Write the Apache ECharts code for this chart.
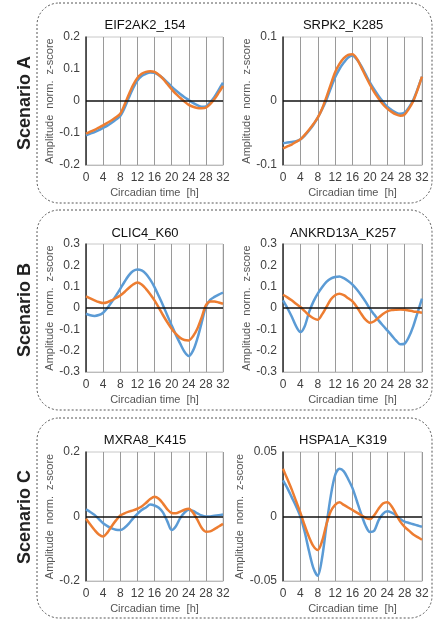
<!DOCTYPE html>
<html><head><meta charset="utf-8">
<script src="https://cdn.jsdelivr.net/npm/echarts@6/dist/echarts.min.js"></script>
<style>html,body{margin:0;padding:0;background:#fff}#c{width:435px;height:622px}</style>
</head><body><div id="c"></div>
<script>
const hours = [0,1,2,3,4,5,6,7,8,9,10,11,12,13,14,15,16,17,18,19,20,21,22,23,24,25,26,27,28,29,30,31,32];
const xTicks = [0,4,8,12,16,20,24,28,32];
const titles = ['EIF2AK2_154','SRPK2_K285','CLIC4_K60','ANKRD13A_K257','MXRA8_K415','HSPA1A_K319'];
const scenarios = ['Scenario A','Scenario B','Scenario C'];
const yMin = [-0.2,-0.1,-0.3,-0.3,-0.2,-0.05];
const yMax = [0.2,0.1,0.3,0.3,0.2,0.05];
const yStep = [0.1,0.1,0.1,0.1,0.2,0.05];

const eif2ak2Blue   = [-0.107,-0.102,-0.097,-0.091,-0.084,-0.077,-0.068,-0.058,-0.047,-0.022,0.010,0.040,0.064,0.078,0.085,0.089,0.088,0.081,0.071,0.058,0.045,0.033,0.022,0.012,0.003,-0.006,-0.013,-0.018,-0.017,-0.004,0.013,0.035,0.057];
const eif2ak2Orange = [-0.102,-0.096,-0.090,-0.083,-0.076,-0.068,-0.060,-0.051,-0.040,-0.012,0.020,0.050,0.072,0.085,0.091,0.093,0.091,0.082,0.069,0.053,0.037,0.022,0.010,-0.002,-0.012,-0.018,-0.022,-0.023,-0.021,-0.010,0.006,0.026,0.047];
const srpk2Blue     = [-0.066,-0.065,-0.064,-0.063,-0.060,-0.054,-0.046,-0.037,-0.026,-0.013,0.002,0.020,0.037,0.050,0.060,0.068,0.071,0.065,0.055,0.042,0.029,0.018,0.008,-0.001,-0.009,-0.014,-0.018,-0.020,-0.018,-0.010,0.002,0.019,0.038];
const srpk2Orange   = [-0.074,-0.071,-0.068,-0.064,-0.060,-0.053,-0.045,-0.036,-0.026,-0.012,0.006,0.026,0.045,0.058,0.067,0.072,0.073,0.066,0.053,0.039,0.026,0.014,0.004,-0.005,-0.012,-0.017,-0.021,-0.023,-0.021,-0.012,0.000,0.018,0.038];
const clic4Blue     = [-0.027,-0.034,-0.037,-0.033,-0.022,0.000,0.028,0.058,0.090,0.123,0.153,0.173,0.181,0.176,0.160,0.133,0.098,0.056,0.012,-0.035,-0.081,-0.126,-0.167,-0.205,-0.225,-0.200,-0.144,-0.070,0.005,0.038,0.052,0.063,0.072];
const clic4Orange   = [0.055,0.045,0.036,0.028,0.023,0.027,0.036,0.047,0.059,0.075,0.094,0.110,0.119,0.110,0.090,0.065,0.036,0.002,-0.034,-0.067,-0.097,-0.121,-0.140,-0.150,-0.152,-0.132,-0.097,-0.045,0.012,0.030,0.031,0.026,0.020];
const ankrdBlue     = [0.036,0.000,-0.040,-0.085,-0.113,-0.085,-0.019,0.030,0.067,0.097,0.122,0.138,0.145,0.148,0.140,0.127,0.110,0.087,0.060,0.030,-0.003,-0.031,-0.058,-0.082,-0.105,-0.128,-0.152,-0.170,-0.167,-0.135,-0.085,-0.020,0.044];
const ankrdOrange   = [0.062,0.050,0.036,0.020,0.005,-0.015,-0.034,-0.048,-0.055,-0.030,0.005,0.040,0.060,0.067,0.060,0.046,0.031,0.005,-0.027,-0.055,-0.069,-0.062,-0.045,-0.028,-0.016,-0.010,-0.008,-0.007,-0.008,-0.012,-0.016,-0.019,-0.022];
const mxra8Blue     = [0.022,0.014,0.005,-0.008,-0.021,-0.030,-0.037,-0.041,-0.042,-0.035,-0.022,-0.006,0.008,0.020,0.028,0.037,0.034,0.027,0.012,-0.015,-0.042,-0.030,-0.005,0.012,0.021,0.017,0.010,0.003,0.000,0.000,0.002,0.004,0.006];
const mxra8Orange   = [-0.007,-0.025,-0.042,-0.056,-0.062,-0.050,-0.030,-0.012,0.003,0.010,0.015,0.019,0.024,0.031,0.042,0.054,0.061,0.055,0.040,0.022,0.011,0.010,0.015,0.021,0.024,0.012,-0.010,-0.035,-0.047,-0.046,-0.039,-0.031,-0.023];
const hspa1aBlue    = [0.028,0.022,0.015,0.008,0.000,-0.012,-0.027,-0.040,-0.046,-0.032,-0.007,0.016,0.032,0.037,0.035,0.029,0.022,0.012,0.002,-0.007,-0.012,-0.011,-0.003,0.002,0.004,0.003,0.001,-0.002,-0.004,-0.005,-0.006,-0.007,-0.008];
const hspa1aOrange  = [0.037,0.029,0.021,0.012,0.003,-0.007,-0.016,-0.023,-0.026,-0.019,-0.006,0.004,0.009,0.011,0.009,0.007,0.005,0.003,0.001,-0.001,-0.002,0.001,0.006,0.010,0.011,0.008,0.002,-0.004,-0.008,-0.011,-0.014,-0.016,-0.018];

const blueSets = [eif2ak2Blue,srpk2Blue,clic4Blue,ankrdBlue,mxra8Blue,hspa1aBlue];
const orangeSets = [eif2ak2Orange,srpk2Orange,clic4Orange,ankrdOrange,mxra8Orange,hspa1aOrange];

const FONT = 'Liberation Sans';
const rowTop = [37,244,452];
const rowH = [128,128,129];
const colLeft = [86,283];
const colW = [137,139];
const titleX = [140,338];
const titleY = [22,230,437];
const boxY = [3,210,418];
const scenY = [103,310,517];

const grids=[], xAxes=[], yAxes=[], series=[], titleOpts=[];
for (let i=0;i<6;i++){
  const r=Math.floor(i/2), c=i%2;
  grids.push({left:colLeft[c], top:rowTop[r], width:colW[c], height:rowH[r], show:true, borderColor:'#c8c8c8', borderWidth:1, backgroundColor:'transparent'});
  xAxes.push({type:'value', gridIndex:i, min:xTicks[0], max:xTicks[xTicks.length-1], interval:4,
    name:'Circadian time  [h]', nameLocation:'middle', nameGap:22,
    nameTextStyle:{fontFamily:FONT,fontSize:11,color:'#555'},
    axisLine:{show:true,onZero:false,lineStyle:{color:'#bbb',width:1}}, axisTick:{show:false},
    axisLabel:{fontFamily:FONT,fontSize:12,color:'#404040',margin:7},
    splitLine:{show:true,lineStyle:{color:'#9a9a9a',width:1}}});
  yAxes.push({type:'value', gridIndex:i, min:yMin[i], max:yMax[i], interval:yStep[i],
    name:'Amplitude  norm.  z-score', nameLocation:'middle', nameGap: c===0?31:20,
    nameTextStyle:{fontFamily:FONT,fontSize:11,color:'#555'},
    axisLine:{show:true,lineStyle:{color:'#333',width:1.5}}, axisTick:{show:false},
    axisLabel:{fontFamily:FONT,fontSize:12,color:'#404040',margin:6,formatter:v=>String(parseFloat(v.toFixed(3)))},
    splitLine:{show:false}});
  series.push({type:'line', xAxisIndex:i, yAxisIndex:i, data:hours.map((h,k)=>[h,blueSets[i][k]]),
    smooth:0.3, showSymbol:false, lineStyle:{color:'#5B9BD5',width:2.5}, itemStyle:{color:'#5B9BD5'}, z:3,
    markLine:{silent:true, symbol:'none', label:{show:false}, animation:false,
      lineStyle:{color:'#111',width:1.5,type:'solid'}, data:[{yAxis:0}]}});
  series.push({type:'line', xAxisIndex:i, yAxisIndex:i, data:hours.map((h,k)=>[h,orangeSets[i][k]]),
    smooth:0.3, showSymbol:false, lineStyle:{color:'#ED7D31',width:2.5}, itemStyle:{color:'#ED7D31'}, z:4});
  titleOpts.push({text:titles[i], left:titleX[c], top:titleY[r]-8, textAlign:'center',
    textStyle:{fontFamily:FONT,fontSize:13,fontWeight:'normal',color:'#111'}});
}
const graphics=[];
for (let r=0;r<3;r++){
  graphics.push({type:'rect', shape:{x:37,y:boxY[r],width:395,height:200,r:22}, silent:true, z:-1,
    style:{fill:'none',stroke:'#555',lineWidth:1,lineDash:[2,2]}});
  graphics.push({type:'text', x:25, y:scenY[r], rotation:Math.PI/2, silent:true,
    style:{text:scenarios[r], font:'bold 18px '+FONT, fill:'#222', textAlign:'center', textVerticalAlign:'middle'}});
}
const chart = echarts.init(document.getElementById('c'), null, {renderer:'canvas'});
chart.setOption({animation:false, title:titleOpts, grid:grids, xAxis:xAxes, yAxis:yAxes, series:series, graphic:graphics});
</script></body></html>
